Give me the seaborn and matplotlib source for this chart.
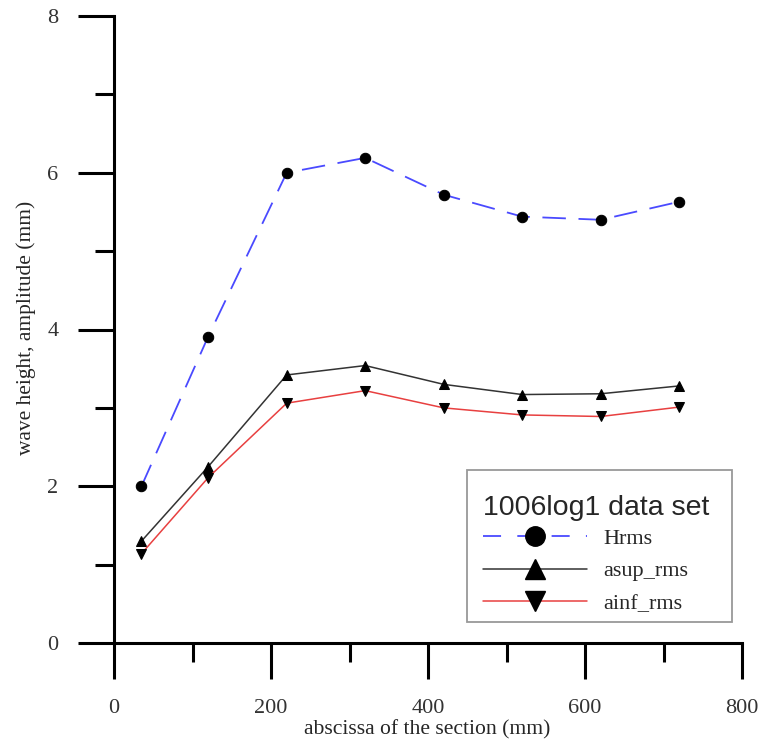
import matplotlib
matplotlib.use("Agg")
import matplotlib.pyplot as plt
import seaborn as sns
import pandas as pd
from matplotlib.lines import Line2D
from matplotlib.patches import Rectangle

# Data
x_mm = [35, 120, 220, 320, 420, 520, 620, 720]
hrms = [2.00, 3.91, 6.00, 6.19, 5.72, 5.44, 5.40, 5.63]
asup_rms = [1.30, 2.25, 3.42, 3.54, 3.30, 3.17, 3.18, 3.28]
ainf_rms = [1.14, 2.11, 3.06, 3.22, 3.00, 2.91, 2.89, 3.01]
series_names = ["Hrms", "asup_rms", "ainf_rms"]
legend_title = "1006log1 data set"
x_label = "abscissa of the section (mm)"
y_label = "wave height, amplitude (mm)"

sns.set_theme(style="white")
plt.rcParams["font.family"] = ["Liberation Serif", "DejaVu Serif"]

W, H = 760, 745
fig = plt.figure(figsize=(W / 100, H / 100), dpi=100)
AX_L, AX_R, AX_T, AX_B = 114, 742, 16, 643
ax = fig.add_axes([AX_L / W, 1 - AX_B / H, (AX_R - AX_L) / W, (AX_B - AX_T) / H])


def ax_frac(px, py):
    return (px - AX_L) / (AX_R - AX_L), (AX_B - py) / (AX_B - AX_T)


df = pd.DataFrame({"x": x_mm, "Hrms": hrms, "asup_rms": asup_rms, "ainf_rms": ainf_rms})

styles = {
    "Hrms": dict(color="#4a4aff", marker="o", ms=7.5, ls=(0, (13, 7)), lw=1.3),
    "asup_rms": dict(color="#333333", marker="^", ms=7.8, ls="-", lw=1.1),
    "ainf_rms": dict(color="#e84040", marker="v", ms=7.8, ls="-", lw=1.1),
}

handles = []
for name in series_names:
    st = styles[name]
    sns.lineplot(data=df, x="x", y=name, ax=ax, color=st["color"], linestyle=st["ls"],
                 linewidth=st["lw"], marker=st["marker"], markersize=st["ms"],
                 markerfacecolor="black", markeredgecolor="black", legend=False)
    hls = (0, (10, 9)) if name == "Hrms" else st["ls"]
    handles.append(Line2D([], [], color=st["color"], linestyle=hls, linewidth=st["lw"],
                          marker=st["marker"], markersize=14,
                          markerfacecolor="black", markeredgecolor="black"))

ax.set_xlim(0, 800)
ax.set_ylim(0, 8)
ax.set_xticks([0, 200, 400, 600, 800])
ax.set_xticks([100, 300, 500, 700], minor=True)
ax.set_yticks([0, 2, 4, 6, 8])
ax.set_yticks([1, 3, 5, 7], minor=True)

for s in ["top", "right"]:
    ax.spines[s].set_visible(False)
for s in ["left", "bottom"]:
    ax.spines[s].set_linewidth(2.2)
    ax.spines[s].set_color("black")

ax.tick_params(which="major", direction="out", length=26, width=2.2, color="black",
               labelsize=16, bottom=True, left=True)
ax.tick_params(which="minor", direction="out", length=14, width=2.2, color="black",
               bottom=True, left=True)
ax.tick_params(axis="x", which="major", pad=14)
ax.tick_params(axis="y", which="major", pad=14)
for lab in ax.get_xticklabels() + ax.get_yticklabels():
    lab.set_color("#333333")

ax.set_xlabel(x_label, fontsize=15.6, va="center")
ax.xaxis.set_label_coords(0.4995, (AX_B - 730) / (AX_B - AX_T))
ax.set_ylabel(y_label, fontsize=15.4, va="center")
ax.yaxis.set_label_coords(-(AX_L - 26) / (AX_R - AX_L), (AX_B - 328) / (AX_B - AX_T))
ax.grid(False)

# legend frame box
x0, y0 = ax_frac(467, 622)
x1, y1 = ax_frac(732, 470)
ax.add_patch(Rectangle((x0, y0), x1 - x0, y1 - y0, transform=ax.transAxes,
                       facecolor="white", edgecolor="#999999", linewidth=1.3, zorder=4))

leg = ax.legend(handles, series_names, title=legend_title, loc="upper left",
                bbox_to_anchor=ax_frac(483, 495), borderaxespad=0, borderpad=0,
                frameon=False, handlelength=4.7, fontsize=16, alignment="left",
                title_fontproperties={"family": "Liberation Sans", "size": 20.5},
                labelspacing=0.55, handletextpad=0.7)
leg.set_zorder(5)
leg._legend_box.sep = 5

fig.savefig("out.png", dpi=100)
